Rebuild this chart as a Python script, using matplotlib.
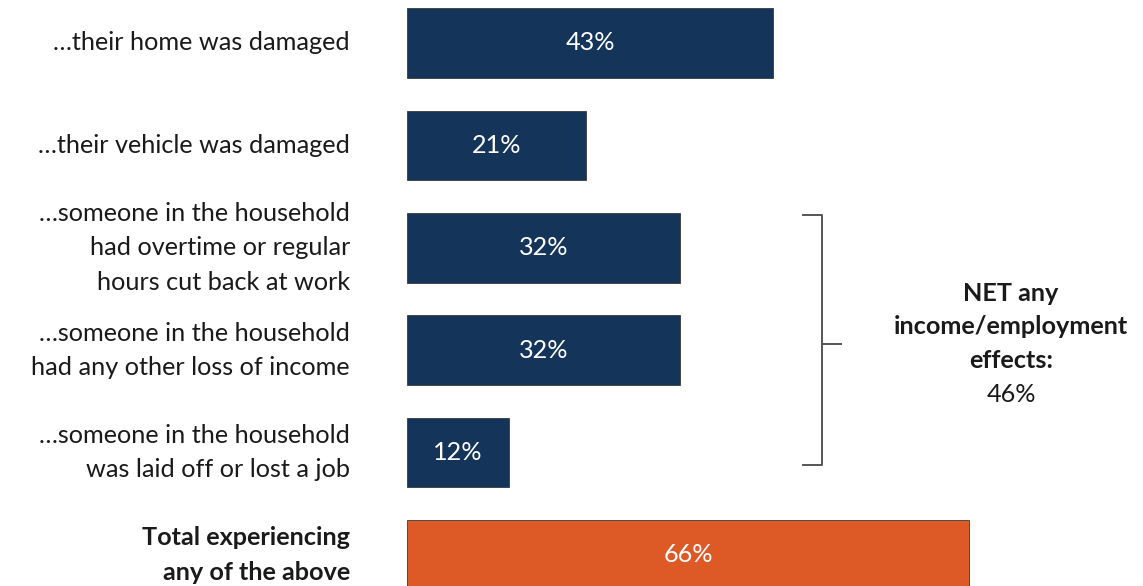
import matplotlib
matplotlib.use("Agg")
import matplotlib.pyplot as plt

categories = [
    "\u2026their home was damaged",
    "\u2026their vehicle was damaged",
    "\u2026someone in the household\nhad overtime or regular\nhours cut back at work",
    "\u2026someone in the household\nhad any other loss of income",
    "\u2026someone in the household\nwas laid off or lost a job",
    "Total experiencing\nany of the above",
]
values = [43, 21, 32, 32, 12, 66]
bar_colors = ["#14345A"] * 5 + ["#DD5A26"]
net_label = "NET any\nincome/employment\neffects:"
net_value = 46

plt.rcParams['font.family'] = ['Lato', 'DejaVu Sans']

W, H = 1143, 586
fig = plt.figure(figsize=(W / 100, H / 100), dpi=100)
x0 = 407
ax = fig.add_axes([x0 / W, 0, (W - x0) / W, 1])
pxper = 8.52
ax.set_xlim(0, (W - x0) / pxper)
spacing = 102.4
ax.set_ylim(5 + (586 - 555) / spacing, -43 / spacing)
ax.axis('off')

fs = 18.2
ypos = list(range(len(values)))
ax.barh(ypos, values, height=0.68, color=bar_colors, edgecolor="#3a3a3a", linewidth=0.6)

for i, (v, c) in enumerate(zip(values, categories)):
    ax.text(v / 2, i, f"{v}%", ha='center', va='center', color='white', fontsize=fs)
    bold = (i == len(values) - 1)
    ax.text(-57 / pxper, i, c, ha='right', va='center', fontsize=fs,
            color='#1a1a1a', fontweight='bold' if bold else 'normal',
            linespacing=1.6, clip_on=False)

# bracket for income/employment items
bx = (822 - x0) / pxper
top = (215 - 43) / spacing
bot = (465 - 43) / spacing
mid = (344 - 43) / spacing
tick = 19 / pxper
ax.plot([bx - tick, bx, bx, bx - tick], [top, top, bot, bot], color='#555555', lw=1.4)
ax.plot([bx, bx + tick], [mid, mid], color='#555555', lw=1.4)

cx = (1011 - x0) / pxper
ax.text(cx, (327 - 43) / spacing, net_label, ha='center', va='center', fontsize=fs,
        fontweight='bold', color='#1a1a1a', linespacing=1.56)
ax.text(cx, (395 - 43) / spacing, f"{net_value}%", ha='center', va='center', fontsize=fs,
        color='#1a1a1a')

fig.savefig("out.png", dpi=100)
